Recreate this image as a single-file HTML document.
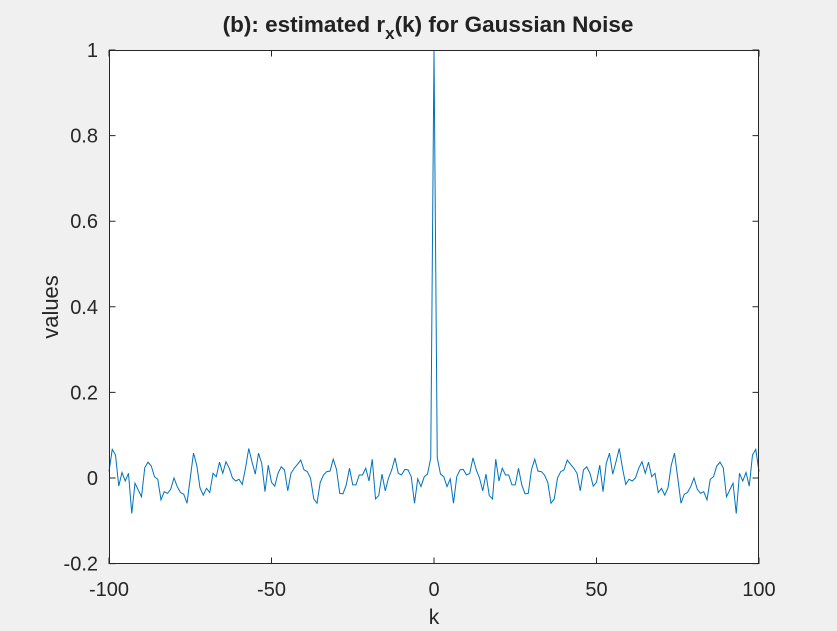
<!DOCTYPE html>
<html><head><meta charset="utf-8"><style>
body{margin:0;background:#f0f0f0;}
svg{display:block;font-family:"Liberation Sans",Arial,sans-serif;}
</style></head><body>
<svg id="chart" width="837" height="631">
<rect x="0" y="0" width="837" height="631" fill="#f0f0f0"/>
<rect x="109" y="50" width="650" height="514" fill="#fff"/>
<text x="428" y="32" text-anchor="middle" font-size="22.5" font-weight="bold" fill="#222">(b): estimated r<tspan font-size="17" dy="7">x</tspan><tspan dy="-7">(k) for Gaussian Noise</tspan></text>
<g id="ticks"></g>
<path id="series" fill="none" stroke="#0072bd" stroke-width="1"/>
<rect x="109.5" y="50.5" width="649" height="513" fill="none" stroke="#262626" stroke-width="1"/>
<text x="434" y="624" text-anchor="middle" font-size="21" fill="#262626">k</text>
<text transform="translate(58,307) rotate(-90)" text-anchor="middle" font-size="22" fill="#262626">values</text>
</svg>
<script>
const lagsPositive = [1,2,3,4,5,6,7,8,9,10,11,12,13,14,15,16,17,18,19,20,21,22,23,24,25,26,27,28,29,30,31,32,33,34,35,36,37,38,39,40,41,42,43,44,45,46,47,48,49,50,51,52,53,54,55,56,57,58,59,60,61,62,63,64,65,66,67,68,69,70,71,72,73,74,75,76,77,78,79,80,81,82,83,84,85,86,87,88,89,90,91,92,93,94,95,96,97,98,99,100];
const valuesPositive = [0.047,0.009,0.003,-0.02,-0.002,-0.059,0.003,0.019,0.02,0.007,0.011,0.047,0.019,0,-0.03,0.009,-0.041,-0.049,0.044,-0.007,0.023,0.007,0.007,-0.016,-0.016,0.023,-0.016,-0.037,-0.036,0.02,0.044,0.016,0.015,0.007,-0.01,-0.059,-0.049,0,0.015,0.019,0.042,0.032,0.023,0.011,-0.03,0.019,0.026,0.011,-0.019,-0.01,0.03,-0.032,0.034,0.058,0.009,0.038,0.069,0.023,-0.015,-0.003,-0.007,0,0.023,0.038,0.011,0.037,0.003,0.011,-0.034,-0.024,-0.04,-0.023,0.03,0.058,0,-0.059,-0.038,-0.034,-0.02,0,-0.026,-0.036,-0.032,-0.051,-0.003,0.003,0.028,0.037,0.024,-0.044,-0.028,-0.012,-0.083,0.011,-0.007,0.013,-0.019,0.054,0.067,0.015];
const peakValue = 1;
const xTicks = [-100,-50,0,50,100];
const yTicks = [-0.2,0,0.2,0.4,0.6,0.8,1];
const yTickLabels = ["-0.2","0","0.2","0.4","0.6","0.8","1"];

const xs = v => 109 + (v + 100) / 200 * 650;
const ys = v => 478 - v * 428;
const NS = "http://www.w3.org/2000/svg";
const g = document.getElementById('ticks');
xTicks.forEach(t => {
  const x = xs(t);
  const l = document.createElementNS(NS, 'path');
  l.setAttribute('d', `M${x} 564V557.5M${x} 50V56.5`);
  l.setAttribute('stroke', '#262626');
  
  
  g.appendChild(l);
  const tx = document.createElementNS(NS, 'text');
  tx.setAttribute('x', x); tx.setAttribute('y', 596);
  tx.setAttribute('text-anchor', 'middle'); tx.setAttribute('font-size', '20'); tx.setAttribute('fill', '#262626');
  
  
  tx.textContent = String(t);
  g.appendChild(tx);
});
yTicks.forEach((t, i) => {
  const y = ys(t);
  const l = document.createElementNS(NS, 'path');
  l.setAttribute('d', `M109 ${y}H115.5M759 ${y}H752.5`);
  l.setAttribute('stroke', '#262626');
  
  
  g.appendChild(l);
  const tx = document.createElementNS(NS, 'text');
  tx.setAttribute('x', 98); tx.setAttribute('y', y + 7);
  tx.setAttribute('text-anchor', 'end'); tx.setAttribute('font-size', '20'); tx.setAttribute('fill', '#262626');
  
  
  tx.textContent = yTickLabels[i];
  g.appendChild(tx);
});
const pts = [];
for (let i = lagsPositive.length - 1; i >= 0; i--) pts.push([-lagsPositive[i], valuesPositive[i]]);
pts.push([0, peakValue]);
for (let i = 0; i < lagsPositive.length; i++) pts.push([lagsPositive[i], valuesPositive[i]]);
document.getElementById('series').setAttribute('d', pts.map((p, i) => (i ? 'L' : 'M') + xs(p[0]).toFixed(2) + ' ' + ys(p[1]).toFixed(2)).join(''));
</script>
</body></html>
